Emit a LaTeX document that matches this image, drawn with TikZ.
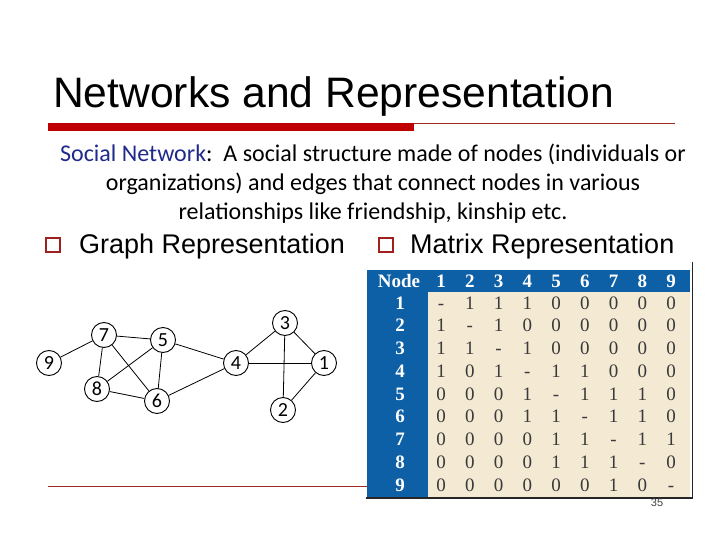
\documentclass[tikz,border=0pt]{standalone}
\usepackage{fontspec}
\setmainfont{Liberation Sans}
\newfontfamily\calfont{Carlito}
\newfontfamily\tabfont{Liberation Serif}
\definecolor{navytxt}{HTML}{1F2A8C}
\definecolor{barred}{HTML}{C00000}
\definecolor{linered}{HTML}{9C2A2A}
\definecolor{tabblue}{HTML}{0D5FA6}
\definecolor{tabbeige}{HTML}{F4EAD4}
\definecolor{tabtxt}{HTML}{3A3A3A}
\definecolor{bulred}{HTML}{A02020}
\tikzset{
  gnode/.style={circle, draw=black, line width=0.9pt, minimum size=25pt, inner sep=0pt, font=\calfont\fontsize{20}{20}\selectfont},
  gedge/.style={line width=0.8pt, black},
  bulbox/.style={draw=bulred, line width=2pt, minimum size=14pt, inner sep=0pt},
  hcell/.style={text=white, font=\tabfont\bfseries\fontsize{19}{19}\selectfont, inner sep=0pt, text height=12pt, text depth=0pt},
  bcell/.style={text=tabtxt, font=\tabfont\fontsize{19}{19}\selectfont, inner sep=0pt, text height=12pt, text depth=0pt},
}
\begin{document}
\begin{tikzpicture}[x=1pt,y=-1pt]
\useasboundingbox (0,0) rectangle (720,540);
\fill[white] (0,0) rectangle (720,540);
% title
\node[anchor=base west, inner sep=0pt, font=\fontsize{42.6}{50}\selectfont] (title) at (53,108) {Networks and Representation};
\fill[barred] (48,123.5) rectangle (414,131);
\draw[linered, line width=0.7pt] (414,123.8) -- (675,123.8);
% subtitle
\node[anchor=base, inner sep=0pt, font=\calfont\fontsize{24}{24}\selectfont] (s1) at (373,162) {\textcolor{navytxt}{Social Network}:\ \ A social structure made of nodes (individuals or};
\node[anchor=base, inner sep=0pt, font=\calfont\fontsize{24}{24}\selectfont] (s2) at (373,191) {organizations) and edges that connect nodes in various};
\node[anchor=base, inner sep=0pt, font=\calfont\fontsize{24}{24}\selectfont] (s3) at (373,219) {relationships like friendship, kinship etc.};
% bullets
\node[bulbox] (b1) at (53,245) {};
\node[anchor=base west, inner sep=0pt, font=\fontsize{27}{27}\selectfont] (g1) at (79,253) {Graph Representation};
\node[bulbox] (b2) at (386,245) {};
\node[anchor=base west, inner sep=0pt, font=\fontsize{27}{27}\selectfont] (m1) at (410,253) {Matrix Representation};
% bottom line
\draw[linered, line width=0.8pt] (48,486) -- (367,486);
% graph
\node[gnode] (n7) at (104,335) {7};
\node[gnode] (n5) at (163,340) {5};
\node[gnode] (n9) at (49,363) {9};
\node[gnode] (n8) at (97,389) {8};
\node[gnode] (n6) at (157,401) {6};
\node[gnode] (n4) at (236,363) {4};
\node[gnode] (n3) at (285,323) {3};
\node[gnode] (n1) at (324,363) {1};
\node[gnode] (n2) at (283,410) {2};
\foreach \a/\b in {9/7,7/5,7/8,7/6,5/8,5/6,5/4,8/6,6/4,4/3,4/1,3/1,3/2,1/2}
  \draw[gedge] (n\a) -- (n\b);
% table
\fill[tabblue] (367,270) rectangle (690,292);
\fill[tabblue] (367,292) rectangle (428,497);
\fill[tabbeige] (428,292) rectangle (690,497);
\draw[black!85, line width=1.5pt] (692.5,262) -- (692.5,498) -- (366,498);
\node[hcell] (hN) at (399,281) {Node};
\foreach \j in {1,...,9}
  \node[hcell] (h\j) at ({441+28.75*(\j-1)},281) {\j};
\foreach \i in {1,...,9}
  \node[hcell] (r\i) at (400,{303+22.75*(\i-1)}) {\i};
\foreach \i/\row in {1/{-,1,1,1,0,0,0,0,0},2/{1,-,1,0,0,0,0,0,0},3/{1,1,-,1,0,0,0,0,0},4/{1,0,1,-,1,1,0,0,0},5/{0,0,0,1,-,1,1,1,0},6/{0,0,0,1,1,-,1,1,0},7/{0,0,0,0,1,1,-,1,1},8/{0,0,0,0,1,1,1,-,0},9/{0,0,0,0,0,0,1,0,-}}{
  \foreach \v [count=\j] in \row
    \node[bcell] (c\i-\j) at ({441+28.75*(\j-1)},{303+22.75*(\i-1)}) {\v};
}
% page number
\node[inner sep=0pt, text=black!75, font=\fontsize{11}{11}\selectfont] (pg) at (657,503) {35};
\end{tikzpicture}
\end{document}
